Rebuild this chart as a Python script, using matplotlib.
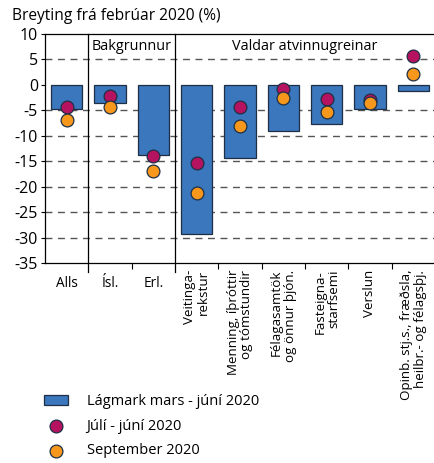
import numpy as np
import matplotlib.pyplot as plt
import matplotlib.transforms as mtransforms

plt.rcParams['font.family'] = ['Open Sans', 'DejaVu Sans']
plt.rcParams['axes.unicode_minus'] = False

categories = ["Alls", "Ísl.", "Erl.", "Veitinga-\nrekstur", "Menning, íþróttir\nog tómstundir",
              "Félagasamtök\nog önnur þjón.", "Fasteigna-\nstarfsemi", "Verslun",
              "Opinb. stj.s., fræðsla,\nheilbr.- og félagsþj."]
lagmark = [-4.8, -3.6, -13.8, -29.3, -14.4, -9.0, -7.7, -4.8, -1.3]
juli = [-4.3, -2.2, -14.0, -15.4, -4.4, -0.9, -2.8, -3.0, 5.7]
september = [-6.9, -4.4, -16.9, -21.2, -8.2, -2.7, -5.3, -3.6, 2.2]
groups = [("Bakgrunnur", 0.5, 2.5), ("Valdar atvinnugreinar", 2.5, 8.5)]

blue = "#3b77bd"
magenta = "#b5135f"
orange = "#f7981d"
edge = "#1e2f45"

fig = plt.figure(figsize=(4.35, 4.63), dpi=100)
ax = fig.add_axes([0.1034, 0.432, 0.8966, 0.495])

x = np.arange(len(categories))
for yv in range(5, -35, -5):
    if yv != 0:
        ax.axhline(yv, color="#555555", lw=1.0, ls=(0, (5, 4)), zorder=1)

bars = ax.bar(x, lagmark, width=0.72, color=blue, edgecolor=edge, lw=0.9, zorder=2)
p1 = ax.scatter(x, juli, s=85, color=magenta, edgecolor=edge, lw=0.9, zorder=3)
p2 = ax.scatter(x, september, s=85, color=orange, edgecolor=edge, lw=0.9, zorder=4)

ax.set_xlim(-0.5, 8.5)
ax.set_ylim(-35, 10)
ax.set_yticks(range(-35, 11, 5))
ax.tick_params(axis="y", labelsize=11.5, length=3, width=0.8, pad=2)
ax.set_xticks([])
ax.set_xticks([1.5, 3.5, 4.5, 5.5, 6.5, 7.5], minor=True)
ax.tick_params(axis="x", which="minor", length=4, width=0.8)
ax.spines["right"].set_visible(False)
for s in ["left", "top", "bottom"]:
    ax.spines[s].set_linewidth(0.9)

trans = mtransforms.blended_transform_factory(ax.transData, ax.transAxes)
for name, x0, x1 in groups:
    ax.plot([x0, x0], [-0.04, 1], color="black", lw=0.9, transform=trans, clip_on=False)
    ax.text((x0 + x1) / 2, 7.6, name, ha="center", va="center", fontsize=10.4)

for i, lab in enumerate(categories):
    if i < 3:
        ax.text(i, -0.055, lab, transform=trans, ha="center", va="top", fontsize=9.8)
    else:
        ax.text(i, -0.03, lab, transform=trans, ha="center", va="top", fontsize=9.6,
                rotation=90, multialignment="right", linespacing=1.05)

fig.text(0.028, 0.965, "Breyting frá febrúar 2020 (%)", ha="left", va="center", fontsize=11.2)

fig.legend([bars, p1, p2], ["Lágmark mars - júní 2020", "Júlí - júní 2020", "September 2020"],
           loc="upper left", bbox_to_anchor=(0.102, 0.148), frameon=False,
           fontsize=10.5, handlelength=1.6, handletextpad=1.3, labelspacing=0.65,
           borderpad=0, borderaxespad=0)

fig.savefig("out.png", dpi=100)
